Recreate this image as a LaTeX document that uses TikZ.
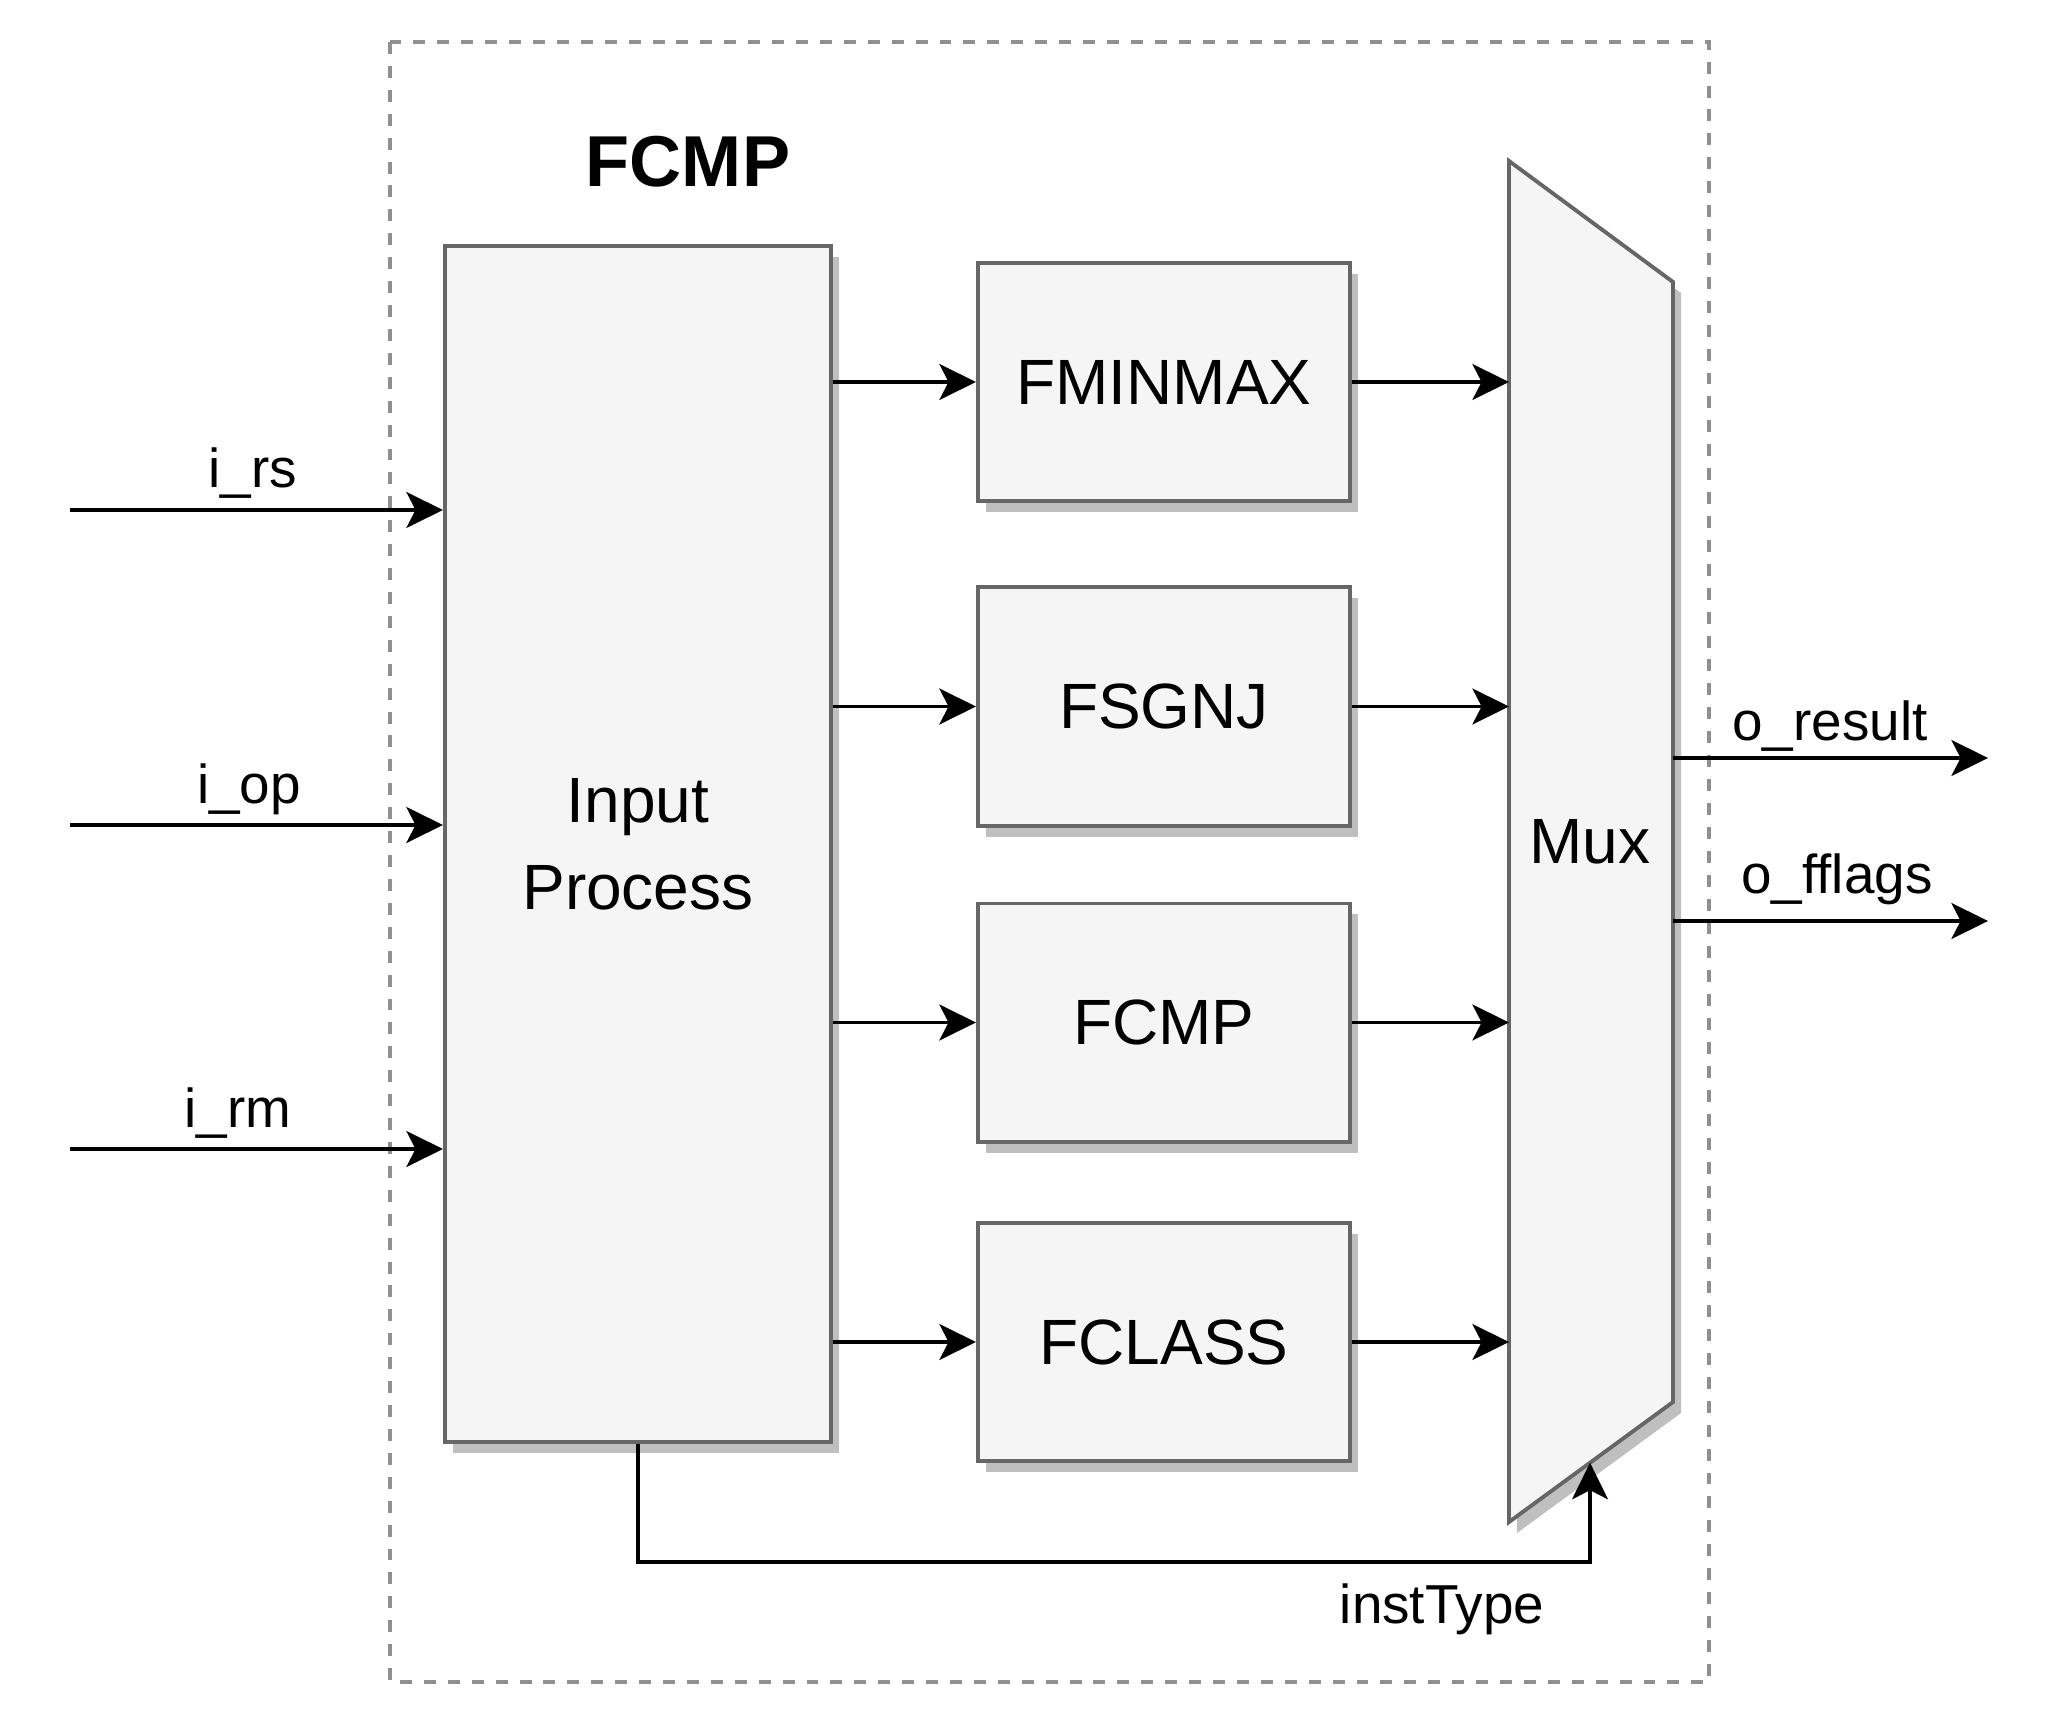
\documentclass[tikz,border=0pt]{standalone}
\usepackage{fontspec}
\setmainfont{Liberation Sans}
\usetikzlibrary{arrows.meta,calc}
\definecolor{boxfill}{HTML}{F5F5F5}
\definecolor{boxline}{HTML}{666666}
\definecolor{shadowc}{HTML}{BFBFBF}
\definecolor{framec}{HTML}{909090}
\tikzset{
  shadowed/.style={preaction={draw=none,fill=shadowc,transform canvas={shift={(0.08cm,-0.11cm)}}}},
  block/.style={shadowed,draw=boxline,fill=boxfill,line width=1.1pt,rectangle,inner sep=0pt,
    minimum width=3.72cm,minimum height=2.38cm,font=\fontsize{18.2}{22}\selectfont},
  arr/.style={line width=1.0pt,-{Stealth[length=10.4pt,width=10.2pt,inset=2.6pt]}},
  lbl/.style={anchor=base,font=\fontsize{15.6}{18}\selectfont,inner sep=0pt}
}
\begin{document}
\begin{tikzpicture}[x=0.01cm,y=-0.01cm]
\useasboundingbox (0,0) rectangle (2064,1728);
% frame
\draw[framec,line width=1.1pt,dash pattern=on 3.4pt off 3.4pt] (390,42) rectangle (1709,1682);
\node[font=\bfseries\fontsize{20.5}{24}\selectfont] (title) at (688,162) {FCMP};
% input process
\node[block,minimum width=3.86cm,minimum height=11.96cm,align=center,
  font=\fontsize{18.2}{24.75}\selectfont] (inp) at (638,844) {Input\\Process};
% functional blocks
\node[block] (fminmax) at (1164,382) {FMINMAX};
\node[block] (fsgnj) at (1164,706.5) {FSGNJ};
\node[block] (fcmp) at (1164,1022.5) {FCMP};
\node[block] (fclass) at (1164,1342) {FCLASS};
% mux
\coordinate (m1) at (1509,161);
\coordinate (m2) at (1673,282);
\coordinate (m3) at (1673,1402);
\coordinate (m4) at (1509,1522);
\draw[shadowed,draw=boxline,fill=boxfill,line width=1.1pt,line join=miter] (m1) -- (m2) -- (m3) -- (m4) -- cycle;
\node[font=\fontsize{18.2}{22}\selectfont] (mux) at (1590,842) {Mux};
% inputs
\coordinate (rsin) at (70,510);
\coordinate (opin) at (70,825);
\coordinate (rmin) at (70,1149);
\draw[arr] (rsin) -- (rsin -| inp.west);
\draw[arr] (opin) -- (opin -| inp.west);
\draw[arr] (rmin) -- (rmin -| inp.west);
\node[lbl] (lrs) at (253,488) {i\_rs};
\node[lbl] (lop) at (249,803) {i\_op};
\node[lbl] (lrm) at (238,1127) {i\_rm};
% input -> blocks
\foreach \b in {fminmax,fsgnj,fcmp,fclass}{
  \draw[arr] (\b.west -| inp.east) -- (\b.west);
  \draw[arr] (\b.east) -- (\b.east -| m1);
}
% outputs
\coordinate (resout) at (1988,758);
\coordinate (flagout) at (1988,921);
\draw[arr] (resout -| m2) -- (resout);
\draw[arr] (flagout -| m2) -- (flagout);
\node[lbl] (lres) at (1830,740) {o\_result};
\node[lbl] (lflag) at (1837,893) {o\_fflags};
% instType
\coordinate (muxsel) at ($(m4)!0.494!(m3)$);
\draw[arr] (inp.south) -- (inp.south |- 0,1562) -| (muxsel);
\node[lbl] (linst) at (1442,1623) {instType};
\end{tikzpicture}
\end{document}
